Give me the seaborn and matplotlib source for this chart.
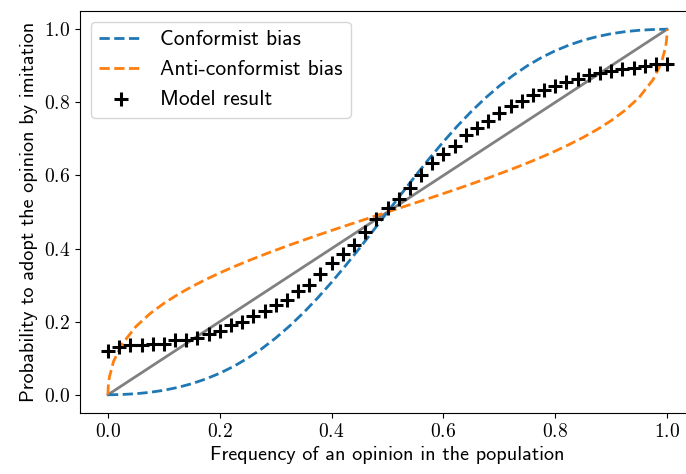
import matplotlib
matplotlib.use("Agg")
import matplotlib.pyplot as plt
import seaborn as sns
import numpy as np
import pandas as pd

# ---- data -------------------------------------------------------------
curve_x = [0.0, 0.0005, 0.001, 0.0025, 0.01, 0.025, 0.05, 0.075, 0.1, 0.125, 0.15,
           0.175, 0.2, 0.225, 0.25, 0.275, 0.3, 0.325, 0.35, 0.375, 0.4, 0.425,
           0.45, 0.475, 0.5, 0.525, 0.55, 0.575, 0.6, 0.625, 0.65, 0.675, 0.7,
           0.725, 0.75, 0.775, 0.8, 0.825, 0.85, 0.875, 0.9, 0.925, 0.95, 0.975,
           0.99, 0.9975, 0.999, 0.9995, 1.0]
conformist_y = [0.0, 0.0000003, 0.000001, 0.0000063, 0.0001, 0.00066, 0.00276, 0.00653,
                0.0122, 0.0200, 0.0302, 0.0431, 0.0588, 0.0777, 0.1000, 0.1258,
                0.1552, 0.1882, 0.2248, 0.2647, 0.3077, 0.3533, 0.4010, 0.4501,
                0.5, 0.5499, 0.5990, 0.6467, 0.6923, 0.7353, 0.7752, 0.8118,
                0.8448, 0.8742, 0.9000, 0.9223, 0.9412, 0.9569, 0.9698, 0.9800,
                0.9878, 0.99347, 0.99724, 0.99934, 0.9999, 0.9999937, 0.999999,
                0.9999997, 1.0]
anticonformist_y = [0.0, 0.0219, 0.0307, 0.0477, 0.0913, 0.1380, 0.1866, 0.2216,
                    0.2500, 0.2743, 0.2958, 0.3153, 0.3333, 0.3502, 0.3660, 0.3811,
                    0.3956, 0.4097, 0.4232, 0.4365, 0.4495, 0.4623, 0.4749, 0.4875,
                    0.5, 0.5125, 0.5251, 0.5377, 0.5505, 0.5635, 0.5768, 0.5903,
                    0.6044, 0.6189, 0.6340, 0.6498, 0.6667, 0.6847, 0.7042, 0.7257,
                    0.7500, 0.7784, 0.8134, 0.8620, 0.9087, 0.9523, 0.9693, 0.9781, 1.0]

diag_x = [0.0, 1.0]
diag_y = [0.0, 1.0]

model_x = [0.00, 0.02, 0.04, 0.06, 0.08, 0.10, 0.12, 0.14, 0.16, 0.18, 0.20,
           0.22, 0.24, 0.26, 0.28, 0.30, 0.32, 0.34, 0.36, 0.38, 0.40,
           0.42, 0.44, 0.46, 0.48, 0.50, 0.52, 0.54, 0.56, 0.58, 0.60,
           0.62, 0.64, 0.66, 0.68, 0.70, 0.72, 0.74, 0.76, 0.78, 0.80,
           0.82, 0.84, 0.86, 0.88, 0.90, 0.92, 0.94, 0.96, 0.98, 1.00]
model_y = [0.120, 0.130, 0.135, 0.135, 0.140, 0.140, 0.150, 0.150, 0.155, 0.165, 0.175,
           0.190, 0.200, 0.215, 0.230, 0.245, 0.260, 0.285, 0.300, 0.330, 0.360,
           0.385, 0.410, 0.445, 0.480, 0.510, 0.535, 0.565, 0.600, 0.635, 0.660,
           0.680, 0.710, 0.730, 0.750, 0.770, 0.790, 0.805, 0.820, 0.835, 0.845,
           0.855, 0.865, 0.875, 0.880, 0.885, 0.890, 0.895, 0.900, 0.905, 0.905]

xticks = [0.0, 0.2, 0.4, 0.6, 0.8, 1.0]
yticks = [0.0, 0.2, 0.4, 0.6, 0.8, 1.0]

# ---- style -------------------------------------------------------------
plt.rcParams["mathtext.fontset"] = "cm"
plt.rcParams["axes.formatter.use_mathtext"] = True
plt.rcParams["font.family"] = ["cmr10"]
plt.rcParams["axes.unicode_minus"] = False

fig = plt.figure(figsize=(6.86, 4.74), dpi=100)
ax = fig.add_axes([80 / 686, (474 - 413) / 474, 615 / 686, 402 / 474])

curves = pd.DataFrame({"x": curve_x, "conf": conformist_y, "anti": anticonformist_y})
diag = pd.DataFrame({"x": diag_x, "y": diag_y})
model = pd.DataFrame({"x": model_x, "y": model_y})

sns.lineplot(data=diag, x="x", y="y", ax=ax, color="grey", lw=2, estimator=None,
             sort=False)
sns.lineplot(data=curves, x="x", y="conf", ax=ax, color="#1f77b4", lw=2,
             linestyle="--", estimator=None, sort=False, label="Conformist bias")
sns.lineplot(data=curves, x="x", y="anti", ax=ax, color="#ff7f0e", lw=2,
             linestyle="--", estimator=None, sort=False, label="Anti-conformist bias")
sns.scatterplot(data=model, x="x", y="y", ax=ax, marker="+", s=95, linewidth=2.2,
                color="black", label="Model result", zorder=5)

ax.set_xlim(-0.05, 1.05)
ax.set_ylim(-0.05, 1.05)
ax.set_xticks(xticks)
ax.set_yticks(yticks)
ax.tick_params(labelsize=14)

ax.set_xlabel("Frequency of an opinion in the population", fontsize=14.5,
              family="cmss10")
ax.set_ylabel("Probability to adopt the opinion by imitation", fontsize=14.5,
              family="cmss10")

leg = ax.legend(loc="upper left", prop={"family": "cmss10", "size": 15.5})

fig.savefig("out.png", dpi=100)
